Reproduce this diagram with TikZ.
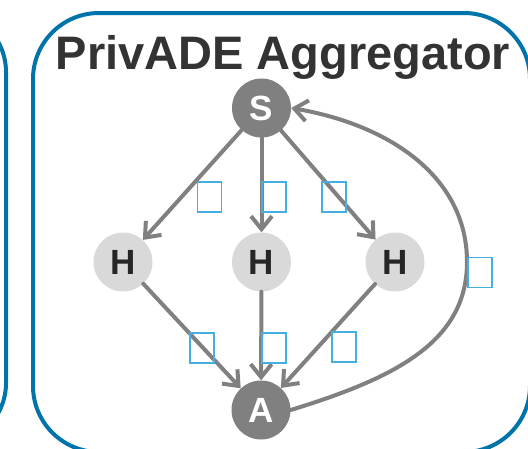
\documentclass[tikz,border=0pt]{standalone}
\usepackage{fontspec}
\setmainfont{Liberation Sans}
\usetikzlibrary{arrows.meta}
\definecolor{frameblue}{RGB}{0,115,170}
\definecolor{edgegray}{RGB}{128,128,128}
\definecolor{hostgray}{RGB}{217,217,217}
\definecolor{labelblue}{RGB}{70,175,225}
\definecolor{titlegray}{RGB}{51,51,51}
\definecolor{hosttext}{RGB}{38,38,38}
\begin{document}
\begin{tikzpicture}[x=1pt,y=-1pt,
  frame/.style={draw=frameblue,line width=4pt},
  endpoint/.style={circle,fill=edgegray,minimum size=59pt,inner sep=0pt,
    text=white,font=\fontsize{35}{40}\selectfont\bfseries},
  hostnode/.style={circle,fill=hostgray,minimum size=59pt,inner sep=0pt,
    text=hosttext,font=\fontsize{35}{40}\selectfont\bfseries},
  flow/.style={draw=edgegray,line width=4pt,line cap=round,
    -{Straight Barb[length=13pt,width=21pt]}},
  lbl/.style={draw=labelblue,line width=1.2pt,minimum width=24pt,
    minimum height=30pt,inner sep=0pt}
]
\useasboundingbox (0,0) rectangle (528,448);
\clip (0,0) rectangle (528,448);

% frames
\draw[frame,rounded corners=62pt] (-500,10) rectangle (6,445);
\draw[frame,rounded corners=66pt] (33,13) rectangle (530,452);

% title
\node[anchor=base,text=titlegray,font=\fontsize{47}{52}\selectfont\bfseries]
  (title) at (283,69) {PrivADE Aggregator};

% nodes
\node[endpoint] (s) at (261.5,108) {S};
\node[hostnode] (h1) at (123,262) {H};
\node[hostnode] (h2) at (261.5,262) {H};
\node[hostnode] (h3) at (395,262) {H};
\node[endpoint] (a) at (261,410) {A};
\coordinate (bend) at (467,262);

% edges
\draw[flow] (s) -- (h1);
\draw[flow] (s) -- (h2);
\draw[flow] (s) -- (h3);
\draw[flow] (h1) -- (a);
\draw[flow] (h2) -- (a);
\draw[flow] (h3) -- (a);
\draw[flow] (a.east) .. controls (395,378) and (467,342) .. (bend)
  .. controls (467,177) and (390,125) .. (s.east);

% edge labels
\node[lbl] (l1) at (209.5,197) {};
\node[lbl] (l2) at (274,197) {};
\node[lbl] (l3) at (334,197) {};
\node[lbl] (l4) at (202,348) {};
\node[lbl] (l5) at (274,348) {};
\node[lbl] (l6) at (344,347) {};
\node[lbl] (l7) at (480,272.5) {};
\end{tikzpicture}
\end{document}
